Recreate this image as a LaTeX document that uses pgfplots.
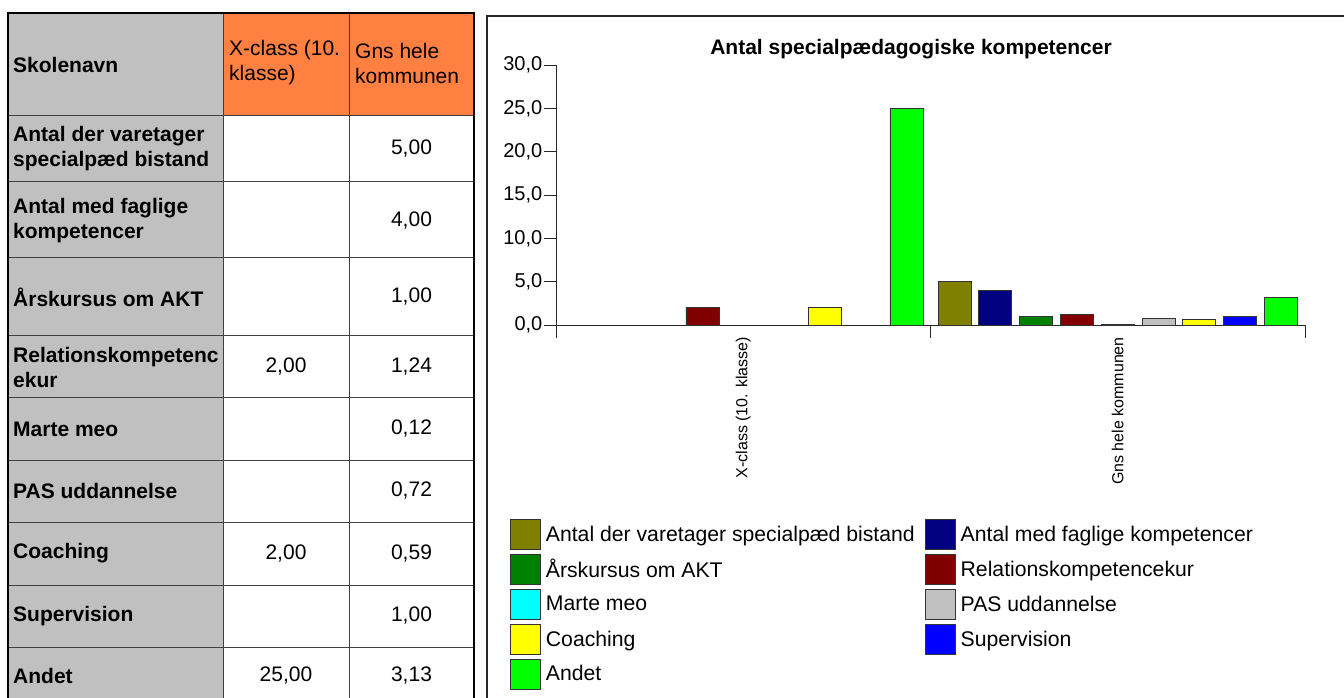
\documentclass[border=0pt]{standalone}
\usepackage{fontspec}
\setmainfont{Liberation Sans}
\usepackage{pgfplots}
\pgfplotsset{compat=1.18}

\definecolor{hdrgray}{HTML}{C0C0C0}
\definecolor{hdrorange}{HTML}{FF8040}
\definecolor{cOlive}{HTML}{808000}
\definecolor{cNavy}{HTML}{000080}
\definecolor{cGreen}{HTML}{008000}
\definecolor{cMaroon}{HTML}{800000}
\definecolor{cCyan}{HTML}{00FFFF}
\definecolor{cSilver}{HTML}{C0C0C0}
\definecolor{cYellow}{HTML}{FFFF00}
\definecolor{cBlue}{HTML}{0000FF}
\definecolor{cLime}{HTML}{00FF00}

\newcommand{\tf}{\fontsize{21}{25}\selectfont}

\pgfplotsset{
  bs/.style n args={2}{ybar, bar width=33pt, bar shift=#1, fill=#2, draw=black!80, line width=0.9pt,
    legend image code/.code={\draw[##1, line width=0.9pt] (0pt,-15pt) rectangle (30pt,15pt);}},
}

\begin{document}
\begin{tikzpicture}[x=1pt,y=1pt]
\path[use as bounding box, clip] (0,0) rectangle (1344,697);
\fill[white] (0,0) rectangle (1344,697);

% ---- table on the left
\fill[hdrgray] (8,-20) rectangle (223,684);
\fill[hdrorange] (223,581) rectangle (474,684);
\foreach \y in {581,515,439,361,299,237,175,112,50}
  \draw[black!75, line width=1pt] (8,\y) -- (474,\y);
\draw[black!75, line width=1pt] (223,-20) -- (223,684);
\draw[black!75, line width=1pt] (349,-20) -- (349,684);
\draw[black, line width=2.5pt] (8,-20) -- (8,684) -- (474,684) -- (474,-20);

\begin{scope}[every node/.style={inner sep=0pt, font=\tf}]
\node[anchor=west, font=\tf\bfseries] at (13,632.5) {Skolenavn};
\node[anchor=west, align=left] at (229,634) {X-class (10.\\klasse)};
\node[anchor=west, align=left] at (355,634) {Gns hele\\kommunen};

\node[anchor=west, align=left, font=\tf\bfseries] at (13,548) {Antal der varetager\\specialpæd bistand};
\node[anchor=west, align=left, font=\tf\bfseries] at (13,476.5) {Antal med faglige\\kompetencer};
\node[anchor=west, font=\tf\bfseries] at (13,400) {Årskursus om AKT};
\node[anchor=west, align=left, font=\tf\bfseries] at (13,330) {Relationskompetenc\\ekur};
\node[anchor=west, font=\tf\bfseries] at (13,268) {Marte meo};
\node[anchor=west, font=\tf\bfseries] at (13,206) {PAS uddannelse};
\node[anchor=west, font=\tf\bfseries] at (13,143.5) {Coaching};
\node[anchor=west, font=\tf\bfseries] at (13,81) {Supervision};
\node[anchor=west, font=\tf\bfseries] at (13,21) {Andet};

\node at (286,330) {2,00};
\node at (286,143.5) {2,00};
\node at (286,21) {25,00};

\node at (411.5,548) {5,00};
\node at (411.5,476.5) {4,00};
\node at (411.5,400) {1,00};
\node at (411.5,330) {1,24};
\node at (411.5,268) {0,12};
\node at (411.5,206) {0,72};
\node at (411.5,143.5) {0,59};
\node at (411.5,81) {1,00};
\node at (411.5,21) {3,13};
\end{scope}

% ---- chart frame and title
\draw[black!85, line width=1.2pt] (487,-20) -- (487,681) -- (1360,681);
\node[font=\fontsize{21}{24}\selectfont\bfseries] at (911,648) {Antal specialpædagogiske kompetencer};

\begin{axis}[
  at={(556pt,372pt)}, anchor=south west,
  scale only axis, width=749pt, height=260pt,
  xmin=0, xmax=2, ymin=0, ymax=30,
  axis x line*=bottom, axis y line*=left,
  axis line style={black!85, line width=1pt},
  tick align=outside, major tick length=12.5pt,
  tick style={black!85, line width=1pt},
  ytick={0,5,...,30},
  yticklabel style={font=\fontsize{20}{22}\selectfont, inner sep=1pt,
    /pgf/number format/fixed, /pgf/number format/fixed zerofill,
    /pgf/number format/precision=1, /pgf/number format/use comma,
    /pgf/number format/assume math mode=true},
  xtick={0,1,2}, xticklabels={,,},
  extra x ticks={0.5,1.5},
  extra x tick labels={X-class (10. klasse), Gns hele kommunen},
  extra x tick style={major tick length=0pt,
    tick label style={yshift=-12pt, rotate=90, anchor=east, inner sep=0pt,
      font=\fontsize{16}{19}\selectfont}},
  legend columns=2,
  legend cell align=left,
  legend style={at={(-0.0614,-0.746)}, anchor=north west, draw=none, fill=none,
    inner sep=0pt, outer sep=0pt, font=\fontsize{21.2}{25}\selectfont, row sep=4pt,
    nodes={inner sep=2pt},
    /tikz/every odd column/.append style={column sep=3pt},
    /tikz/every even column/.append style={column sep=8pt}},
]
\addplot[bs={-163.2pt}{cOlive}] coordinates {(1.5,5.00)};
\addlegendentry{Antal der varetager specialpæd bistand}
\addplot[bs={-122.4pt}{cNavy}] coordinates {(1.5,4.00)};
\addlegendentry{Antal med faglige kompetencer}
\addplot[bs={-81.6pt}{cGreen}] coordinates {(1.5,1.00)};
\addlegendentry{Årskursus om AKT}
\addplot[bs={-40.8pt}{cMaroon}] coordinates {(0.5,2.00) (1.5,1.24)};
\addlegendentry{Relationskompetencekur}
\addplot[bs={0pt}{cCyan}] coordinates {(1.5,0.12)};
\addlegendentry{Marte meo}
\addplot[bs={40.8pt}{cSilver}] coordinates {(1.5,0.72)};
\addlegendentry{PAS uddannelse}
\addplot[bs={81.6pt}{cYellow}] coordinates {(0.5,2.00) (1.5,0.59)};
\addlegendentry{Coaching}
\addplot[bs={122.4pt}{cBlue}] coordinates {(1.5,1.00)};
\addlegendentry{Supervision}
\addplot[bs={163.2pt}{cLime}] coordinates {(0.5,25.00) (1.5,3.13)};
\addlegendentry{Andet}
\end{axis}
\end{tikzpicture}
\end{document}
